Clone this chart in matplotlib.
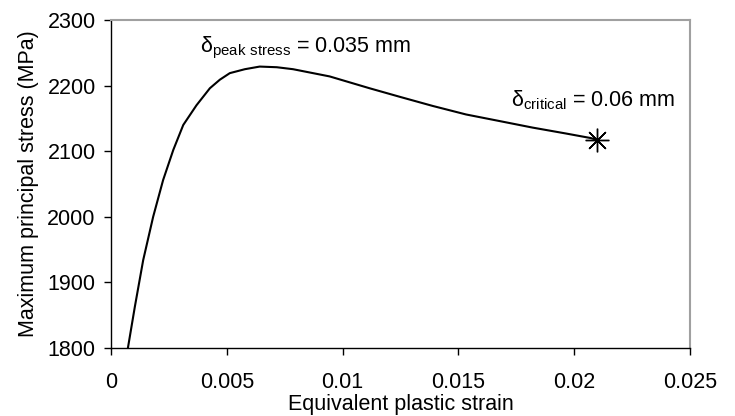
import numpy as np
import matplotlib.pyplot as plt

plt.rcParams['font.family'] = ['Liberation Sans', 'DejaVu Sans']

# curve
strain = [0.00073, 0.00103, 0.00139, 0.00182, 0.00225, 0.00269, 0.00312,
          0.00369, 0.00427, 0.00470, 0.00513, 0.00578, 0.00642, 0.00716,
          0.00786, 0.00944, 0.01116, 0.01246, 0.01389, 0.01533, 0.01677,
          0.0182, 0.01964, 0.02072, 0.0210]
stress = [1800, 1863, 1934, 2000, 2056, 2102, 2140,
          2170, 2196, 2209, 2219, 2225, 2229, 2228,
          2225, 2214, 2196, 2183, 2169, 2156, 2146,
          2136, 2127, 2120, 2117]
crit_strain = 0.0210
crit_stress = 2117

fig = plt.figure(figsize=(7.35, 4.16), dpi=100)
ax = fig.add_axes([111/735, 1-348/416, 579/735, 328/416])

ax.plot(strain, stress, color='black', lw=1.5, solid_joinstyle='round')
ax.plot([crit_strain], [crit_stress], marker=(8, 2, 0), ms=17, mew=1.0,
        color='black', ls='none')
ax.plot([crit_strain], [crit_stress], marker='o', ms=2.5, color='black')

ax.set_xlim(0, 0.025)
ax.set_ylim(1800, 2300)
ax.set_xticks([0, 0.005, 0.01, 0.015, 0.02, 0.025])
ax.set_xticklabels(['0', '0.005', '0.01', '0.015', '0.02', '0.025'])
ax.set_yticks([1800, 1900, 2000, 2100, 2200, 2300])
ax.tick_params(labelsize=15.5, length=5, width=1, direction='out')
ax.tick_params(axis='x', pad=12)
ax.tick_params(axis='y', pad=6)
for s in ['top', 'right']:
    ax.spines[s].set_color('#a0a0a0')
    ax.spines[s].set_linewidth(1.5)
for s in ['left', 'bottom']:
    ax.spines[s].set_linewidth(1)

ax.set_xlabel('Equivalent plastic strain', fontsize=15.5, labelpad=1)
ax.set_ylabel('Maximum principal stress (MPa)', fontsize=15.5, labelpad=6)

ax.text(0.0084, 2250, r'$\mathregular{\delta_{peak\ stress}}$ = 0.035 mm',
        fontsize=15.5, ha='center', va='baseline')
ax.text(0.0208, 2169, r'$\mathregular{\delta_{critical}}$ = 0.06 mm',
        fontsize=15.5, ha='center', va='baseline')

fig.savefig('out.png', dpi=100)
